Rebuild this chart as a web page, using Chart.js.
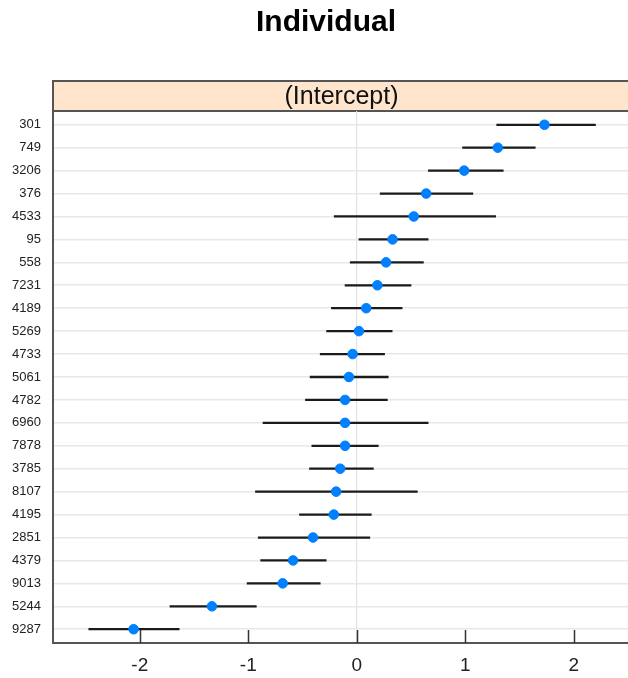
<!DOCTYPE html>
<html>
<head>
<meta charset="utf-8">
<script src="https://cdn.jsdelivr.net/npm/chart.js@4.4.1/dist/chart.umd.min.js"></script>
<style>
  body { margin: 0; background: #fff; }
</style>
</head>
<body>
<canvas id="ranef-chart" width="628" height="678"></canvas>
<script>
// groups, top to bottom
const groups = ["301", "749", "3206", "376", "4533", "95", "558", "7231", "4189", "5269",
    "4733", "5061", "4782", "6960", "7878", "3785", "8107", "4195", "2851", "4379",
    "9013", "5244", "9287"];
const estimates = [1.73, 1.30, 0.99, 0.64, 0.525, 0.33, 0.27, 0.19, 0.087, 0.02,
    -0.038, -0.072, -0.108, -0.108, -0.108, -0.153, -0.19, -0.212, -0.403, -0.587,
    -0.683, -1.335, -2.057];
const lower = [1.29, 0.975, 0.66, 0.216, -0.208, 0.02, -0.06, -0.108, -0.234, -0.278,
    -0.337, -0.43, -0.473, -0.864, -0.414, -0.436, -0.934, -0.528, -0.908, -0.886,
    -1.011, -1.722, -2.47];
const upper = [2.20, 1.645, 1.35, 1.07, 1.28, 0.658, 0.614, 0.50, 0.418, 0.326,
    0.256, 0.29, 0.282, 0.658, 0.198, 0.153, 0.558, 0.134, 0.12, -0.282,
    -0.337, -0.926, -1.637];
const xTicks = [-2, -1, 0, 1, 2];

const font = "'Liberation Sans', Arial, sans-serif";

const intervalData = groups.map((g, i) => ({ x: [lower[i], upper[i]], y: i }));
const pointData = groups.map((g, i) => ({ x: estimates[i], y: i }));

// title, strip on top of the panel, inward tick marks on the x axis
const panelExtras = {
    id: "panelExtras",
    beforeDraw(chart) {
        const { ctx, chartArea } = chart;
        ctx.save();
        ctx.fillStyle = "#000";
        ctx.font = "bold 30px " + font;
        ctx.textAlign = "center";
        ctx.textBaseline = "middle";
        ctx.fillText("Individual", 326, 23);

        ctx.fillStyle = "#FFE5CC";
        ctx.fillRect(chartArea.left, 81, chartArea.right - chartArea.left + 4, chartArea.top - 81);
        ctx.strokeStyle = "#555";
        ctx.lineWidth = 2;
        ctx.beginPath();
        ctx.moveTo(chartArea.left, 81);
        ctx.lineTo(chartArea.right + 4, 81);
        ctx.moveTo(chartArea.left, chartArea.top);
        ctx.lineTo(chartArea.right + 4, chartArea.top);
        ctx.moveTo(chartArea.left, 80);
        ctx.lineTo(chartArea.left, chartArea.top);
        ctx.stroke();
        ctx.fillStyle = "#111";
        ctx.font = "25px " + font;
        ctx.fillText("(Intercept)", (chartArea.left + chartArea.right) / 2 + 1, (81 + chartArea.top) / 2 + 1);
        ctx.restore();
    },
    afterDraw(chart) {
        const { ctx, chartArea } = chart;
        const xScale = chart.scales.x;
        ctx.save();
        ctx.strokeStyle = "#333";
        ctx.lineWidth = 1.5;
        ctx.beginPath();
        xTicks.forEach(v => {
            const px = Math.round(xScale.getPixelForValue(v)) + 0.5;
            ctx.moveTo(px, chartArea.bottom);
            ctx.lineTo(px, chartArea.bottom - 13);
        });
        ctx.stroke();
        ctx.restore();
    }
};

const ranefChart = new Chart(document.getElementById("ranef-chart"), {
    type: "bar",
    data: {
        datasets: [
            {
                type: "scatter",
                data: pointData,
                backgroundColor: "#0080FF",
                borderColor: "#0080FF",
                pointRadius: 4.8,
                pointHoverRadius: 4.8,
                order: 0,
            },
            {
                type: "bar",
                data: intervalData,
                backgroundColor: "#1a1a1a",
                barThickness: 1.6,
                order: 1,
            },
        ],
    },
    options: {
        responsive: false,
        animation: false,
        indexAxis: "y",
        layout: { padding: { top: 111 }, autoPadding: false },
        plugins: {
            legend: { display: false },
            tooltip: { enabled: false },
            title: { display: false },
        },
        scales: {
            x: {
                type: "linear",
                min: -2.8,
                max: 2.5,
                offset: false,
                afterFit(scale) {
                    scale.height = 35;
                    scale.paddingLeft = 0;
                    scale.paddingRight = 0;
                },
                ticks: {
                    stepSize: 1,
                    includeBounds: false,
                    color: "#222",
                    padding: 11,
                    font: { family: font, size: 19 },
                },
                grid: {
                    drawTicks: false,
                    offset: false,
                    lineWidth: 1.2,
                    color: ctx => (ctx.tick && ctx.tick.value === 0 ? "#E2E2E2" : "rgba(0,0,0,0)"),
                },
                border: { color: "#555", width: 2 },
            },
            y: {
                type: "linear",
                min: -0.6,
                max: 22.6,
                reverse: true,
                offset: false,
                afterFit(scale) {
                    scale.width = 53;
                    scale.paddingTop = 0;
                    scale.paddingBottom = 0;
                },
                ticks: {
                    stepSize: 1,
                    includeBounds: false,
                    autoSkip: false,
                    color: "#222",
                    padding: 12,
                    font: { family: font, size: 13 },
                    callback: v => groups[v],
                },
                grid: {
                    drawTicks: false,
                    offset: false,
                    lineWidth: 1.6,
                    color: "#E8E8E8",
                },
                border: { color: "#555", width: 2 },
            },
        },
    },
    plugins: [panelExtras],
});
</script>
</body>
</html>
